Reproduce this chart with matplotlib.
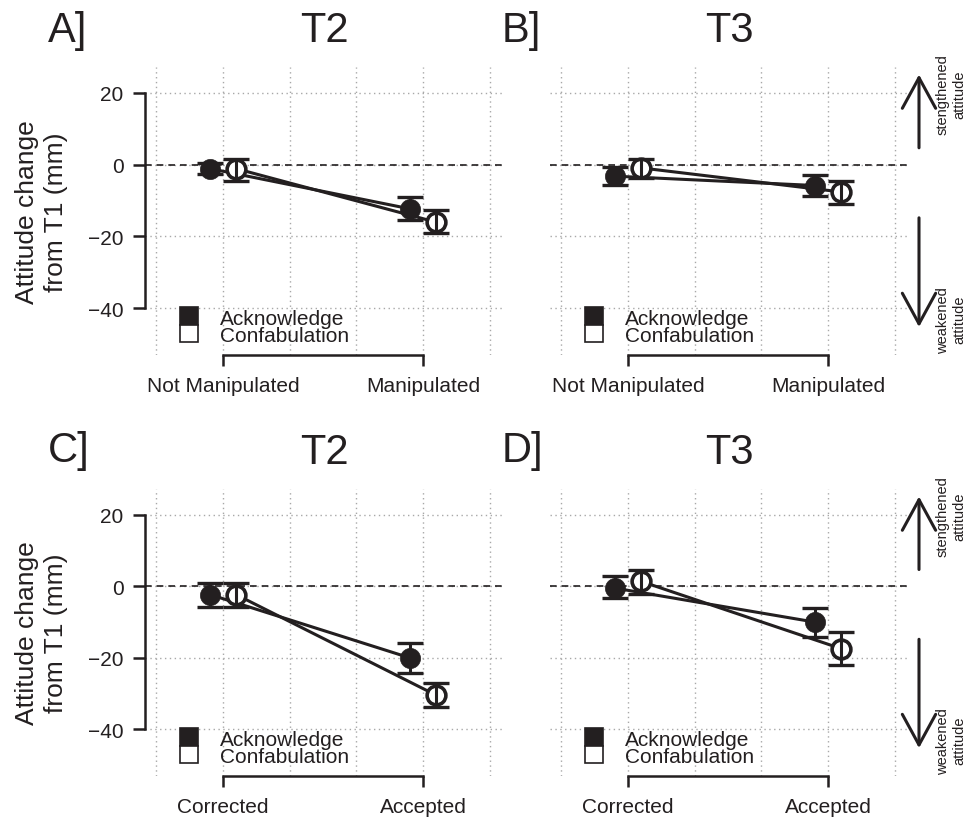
import matplotlib
matplotlib.use('Agg')
import matplotlib.pyplot as plt
from matplotlib.patches import Rectangle

plt.rcParams['font.family'] = ['Liberation Sans', 'DejaVu Sans']

ink = '#231f20'
W, H = 966, 820

panel_tags = ['A]', 'B]', 'C]', 'D]']
times = ['T2', 'T3', 'T2', 'T3']
groups_top = ['Not Manipulated', 'Manipulated']
groups_bottom = ['Corrected', 'Accepted']
series = ['Acknowledge', 'Confabulation']

# one row per panel (A, B, C, D), columns = the two conditions
ack_mean = [[-1.1, -12.3], [-3.2, -5.8], [-2.3, -20.0], [-0.5, -10.0]]
ack_lo = [[-2.5, -15.5], [-5.6, -8.7], [-5.8, -24.1], [-3.3, -14.2]]
ack_hi = [[0.6, -9.0], [-0.6, -2.8], [0.9, -15.9], [2.8, -6.1]]
conf_mean = [[-1.1, -16.0], [-0.9, -7.6], [-2.3, -30.4], [1.4, -17.4]]
conf_lo = [[-4.5, -19.0], [-3.7, -10.9], [-5.8, -33.8], [-2.1, -22.1]]
conf_hi = [[1.7, -12.5], [1.5, -4.6], [0.9, -26.9], [4.6, -12.7]]

yticks = [-40, -20, 0, 20]
xgrid = [2 / 3, 1, 4 / 3, 5 / 3, 2, 7 / 3]

fig = plt.figure(figsize=(W / 100, H / 100), dpi=100)

# axes boxes in pixels: left, top, right, bottom
boxes = [(145, 68, 503, 356), (550, 68, 908, 356),
         (145, 490, 503, 777), (550, 490, 908, 777)]
tag_pos = [(48, 42), (502, 42), (48, 462), (502, 462)]

for i in range(4):
    l, t, r, b = boxes[i]
    ax = fig.add_axes([l / W, 1 - b / H, (r - l) / W, (b - t) / H])
    ax.set_xlim(0.61, 2.4)
    ax.set_ylim(-53, 27.2)

    # dotted grid + dashed zero line
    for gx in xgrid:
        ax.axvline(gx, color='#a8a8a8', lw=1, ls=(0, (1, 2.5)), zorder=1)
    for gy in yticks:
        ax.axhline(gy, color='#a8a8a8', lw=1, ls=(0, (1, 2.5)), zorder=1)
    ax.axhline(0, color=ink, lw=1.2, ls=(0, (4, 3)), zorder=1.5)

    xa = [1 - 0.065, 2 - 0.065]
    xc = [1 + 0.065, 2 + 0.065]
    ax.plot(xa, ack_mean[i], color=ink, lw=2.2, zorder=2)
    ax.plot(xc, conf_mean[i], color=ink, lw=2.2, zorder=2)
    ax.plot(xa, ack_mean[i], ls='none', marker='o', ms=14.5, mfc=ink, mec=ink, mew=0.5, zorder=3)
    ax.plot(xc, conf_mean[i], ls='none', marker='o', ms=13.5, mfc='white', mec=ink, mew=2.6, zorder=3)
    ax.errorbar(xa, ack_mean[i],
                yerr=[[m - lo for m, lo in zip(ack_mean[i], ack_lo[i])],
                      [hi - m for m, hi in zip(ack_mean[i], ack_hi[i])]],
                fmt='none', ecolor=ink, elinewidth=2.2, capsize=9.5, capthick=2.4, zorder=4)
    ax.errorbar(xc, conf_mean[i],
                yerr=[[m - lo for m, lo in zip(conf_mean[i], conf_lo[i])],
                      [hi - m for m, hi in zip(conf_mean[i], conf_hi[i])]],
                fmt='none', ecolor=ink, elinewidth=2.2, capsize=9.5, capthick=2.4, zorder=4)

    # R style axes
    for s in ['top', 'right']:
        ax.spines[s].set_visible(False)
    ax.spines['bottom'].set_bounds(1, 2)
    ax.spines['bottom'].set_linewidth(1.8)
    ax.spines['bottom'].set_color(ink)
    ax.set_xticks([1, 2])
    ax.set_xticklabels(groups_top if i < 2 else groups_bottom)
    ax.tick_params(axis='x', length=8, width=1.8, color=ink, pad=7,
                   labelsize=15, labelcolor=ink)
    if i % 2 == 0:
        ax.spines['left'].set_bounds(-40, 20)
        ax.spines['left'].set_linewidth(1.8)
        ax.spines['left'].set_color(ink)
        ax.set_yticks(yticks)
        ax.tick_params(axis='y', length=8.5, width=1.8, color=ink, pad=7,
                       labelsize=15, labelcolor=ink)
        ax.text(-0.289, 0.5, 'Attitude change\nfrom T1 (mm)', transform=ax.transAxes,
                rotation=90, ha='center', va='center', fontsize=19,
                linespacing=1.3, color=ink)
    else:
        ax.spines['left'].set_visible(False)
        ax.set_yticks([])
        # direction arrows at the right
        ax.annotate('', xy=(2.455, 25.1), xytext=(2.455, 4.7),
                    xycoords='data', annotation_clip=False,
                    arrowprops=dict(arrowstyle='->,head_length=1.1,head_width=0.6',
                                    mutation_scale=20, lw=2.2, color=ink,
                                    shrinkA=0, shrinkB=0))
        ax.annotate('', xy=(2.455, -45.2), xytext=(2.455, -14.8),
                    xycoords='data', annotation_clip=False,
                    arrowprops=dict(arrowstyle='->,head_length=1.1,head_width=0.6',
                                    mutation_scale=20, lw=2.2, color=ink,
                                    shrinkA=0, shrinkB=0))
        ax.text(2.615, 19.8, 'stengthened\nattitude', rotation=90, ha='center',
                va='center', fontsize=10.5, linespacing=1.2, color=ink, clip_on=False)
        ax.text(2.615, -43.0, 'weakened\nattitude', rotation=90, ha='center',
                va='center', fontsize=10.5, linespacing=1.2, color=ink, clip_on=False)

    # legend boxes
    ax.add_patch(Rectangle((0.785, -44.6), 0.09, 5.0, facecolor=ink, edgecolor=ink,
                           lw=1.2, zorder=5))
    ax.add_patch(Rectangle((0.785, -49.4), 0.09, 4.8, facecolor='white', edgecolor=ink,
                           lw=1.2, zorder=5))
    ax.text(0.985, -44.35, series[0], fontsize=15, va='baseline', ha='left', color=ink, zorder=5)
    ax.text(0.985, -49.1, series[1], fontsize=15, va='baseline', ha='left', color=ink, zorder=5)

    ax.text(0.5, 1 + 26 / (b - t), times[i], transform=ax.transAxes, ha='center',
            va='baseline', fontsize=30, color=ink)
    fig.text(tag_pos[i][0] / W, 1 - tag_pos[i][1] / H, panel_tags[i], ha='left',
             va='baseline', fontsize=30, color=ink)

fig.savefig('out.png', dpi=100)
